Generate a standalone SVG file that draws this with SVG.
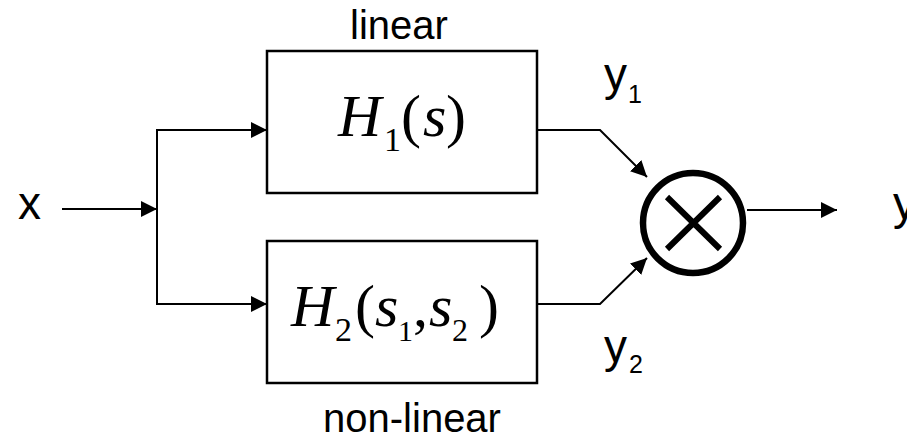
<svg xmlns="http://www.w3.org/2000/svg" width="907" height="439" viewBox="0 0 907 439">
<style>
.lbl{font-family:"Liberation Sans",Arial,sans-serif;fill:#000}
.math{font-family:"Liberation Serif","Times New Roman",serif;fill:#000}
.it{font-style:italic}
.box{fill:#fff;stroke:#000;stroke-width:2.5}
.wire{fill:none;stroke:#000;stroke-width:2}
</style>
<defs>
<marker id="arr" markerUnits="userSpaceOnUse" markerWidth="16" markerHeight="16" viewBox="0 0 16 16" refX="16" refY="8" orient="auto">
<path d="M0,0 L16,8 L0,16 Z" fill="#000"/>
</marker>
</defs>
<rect width="907" height="439" fill="#fff"/>
<g id="connectors">
<line class="wire" x1="62" y1="209" x2="157" y2="209" marker-end="url(#arr)"/>
<line class="wire" x1="157" y1="130" x2="157" y2="304"/>
<line class="wire" x1="156" y1="130" x2="267" y2="130" marker-end="url(#arr)"/>
<line class="wire" x1="156" y1="304" x2="267" y2="304" marker-end="url(#arr)"/>
<polyline class="wire" points="537,130 600,130 647,177" marker-end="url(#arr)"/>
<polyline class="wire" points="537,304 600,304 647,258" marker-end="url(#arr)"/>
<line class="wire" x1="747" y1="210" x2="837" y2="210" marker-end="url(#arr)"/>
</g>
<g id="input-x"><text class="lbl" x="18" y="219" font-size="46">x</text></g>
<g id="output-y"><text class="lbl" x="893" y="219" font-size="46">y</text></g>
<g id="H1">
<rect class="box" x="267" y="51" width="270" height="142"/>
<text class="math" font-size="60" y="136"><tspan x="338" class="it">H</tspan><tspan x="384" y="151" font-size="34">1</tspan><tspan x="401" y="136">(</tspan><tspan x="423" class="it">s</tspan><tspan x="446">)</tspan></text>
</g>
<g id="H2">
<rect class="box" x="267" y="241" width="270" height="142"/>
<text class="math" font-size="60" y="326"><tspan x="291" class="it">H</tspan><tspan x="335" y="341" font-size="34">2</tspan><tspan x="355" y="326">(</tspan><tspan x="375" class="it">s</tspan><tspan x="398" y="341" font-size="30">1</tspan><tspan x="413" y="326">,</tspan><tspan x="429" class="it">s</tspan><tspan x="452" y="341" font-size="32">2</tspan><tspan x="479" y="326">)</tspan></text>
</g>
<g id="multiplier">
<circle cx="693" cy="223" r="50" fill="#fff" stroke="#000" stroke-width="6.5"/>
<path d="M667,197 L720,249 M720,197 L667,249" stroke="#000" stroke-width="6" fill="none"/>
</g>
<g id="labels">
<text class="lbl" x="399" y="39" font-size="40" text-anchor="middle">linear</text>
<text class="lbl" x="412" y="432" font-size="40" text-anchor="middle">non-linear</text>
<text class="lbl" x="604" y="90" font-size="46">y<tspan x="628" y="103" font-size="25">1</tspan></text>
<text class="lbl" x="604" y="362" font-size="46">y<tspan x="629" y="373" font-size="25">2</tspan></text>
</g>
</svg>
